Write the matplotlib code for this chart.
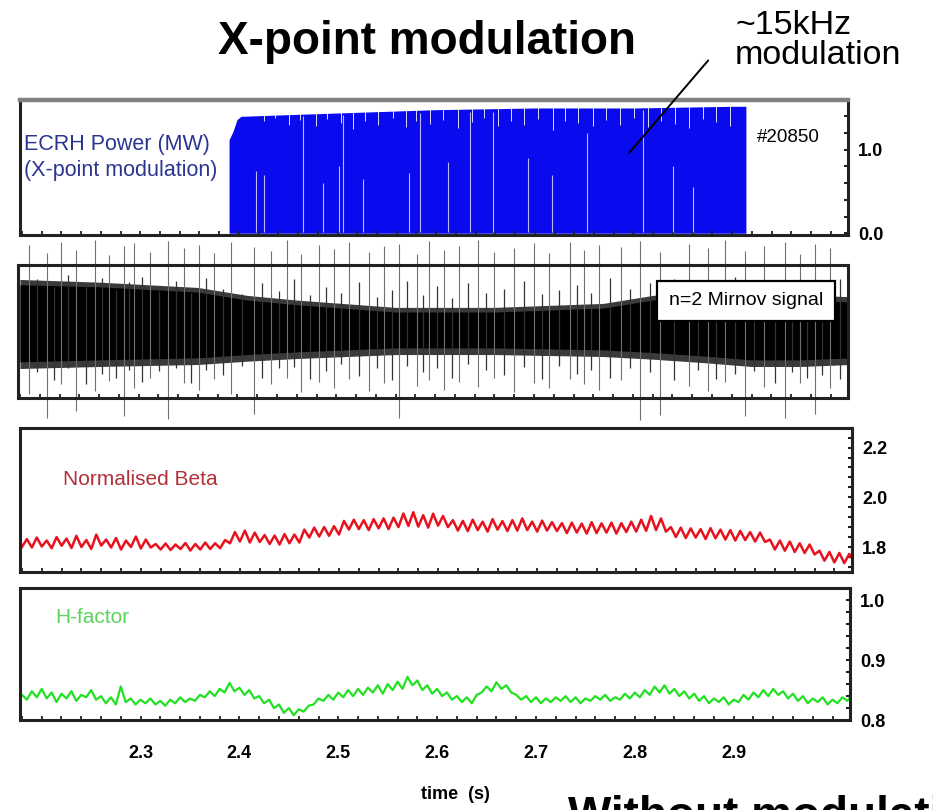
import numpy as np
import matplotlib
matplotlib.use("Agg")
import matplotlib.pyplot as plt
from matplotlib.ticker import AutoMinorLocator

plt.rcParams['font.family'] = ['Liberation Sans', 'DejaVu Sans']

# sampled traces start at 2.18 s, one value every 5 ms
t_start = 2.18
dt = 0.005

beta = [
    1.800, 1.832, 1.798, 1.838, 1.802, 1.826, 1.795, 1.840, 1.805, 1.834, 1.796, 1.845, 1.800, 1.828,
    1.792, 1.850, 1.806, 1.830, 1.798, 1.836, 1.790, 1.826, 1.800, 1.842, 1.794, 1.830, 1.798,
    1.812, 1.790, 1.814, 1.788, 1.810, 1.792, 1.816, 1.786, 1.812, 1.790, 1.818, 1.792, 1.815, 1.795, 1.828,
    1.815, 1.860, 1.822, 1.866, 1.818, 1.858, 1.820,
    1.848, 1.812, 1.846, 1.810, 1.852, 1.815, 1.850, 1.818,
    1.870, 1.838, 1.878, 1.842, 1.880, 1.845, 1.884, 1.850,
    1.905, 1.870, 1.910, 1.872, 1.908, 1.868, 1.912, 1.875, 1.915, 1.872, 1.918,
    1.880, 1.935, 1.885, 1.940, 1.882, 1.928, 1.878, 1.934, 1.886, 1.925, 1.880,
    1.908, 1.866, 1.905, 1.864, 1.910, 1.868, 1.902, 1.862, 1.912, 1.870, 1.904, 1.864, 1.908, 1.866,
    1.915, 1.868, 1.902, 1.862, 1.906, 1.866, 1.900, 1.864,
    1.896, 1.856, 1.898, 1.858, 1.894, 1.854, 1.900, 1.856, 1.895, 1.858, 1.898, 1.854, 1.896, 1.860,
    1.902, 1.862, 1.910, 1.865, 1.925, 1.868, 1.915, 1.862,
    1.880, 1.840, 1.878, 1.836, 1.875, 1.838, 1.872, 1.832, 1.876, 1.835, 1.870, 1.830, 1.868, 1.826,
    1.865, 1.828, 1.860, 1.822, 1.858, 1.820,
    1.830, 1.790, 1.826, 1.785, 1.822, 1.780, 1.815, 1.776, 1.810, 1.770,
    1.785, 1.745, 1.780, 1.738, 1.776, 1.735, 1.772, 1.740,
]

hfactor = [
    0.842, 0.834, 0.848, 0.838, 0.852, 0.836, 0.846, 0.830, 0.844,
    0.836, 0.848, 0.832, 0.842, 0.838, 0.850, 0.834, 0.840,
    0.828, 0.838, 0.826, 0.856, 0.830, 0.836, 0.826, 0.834,
    0.828, 0.836, 0.826, 0.832, 0.824, 0.834, 0.828, 0.838, 0.830, 0.836, 0.832, 0.842,
    0.838, 0.848, 0.840, 0.852, 0.846, 0.862, 0.848,
    0.854, 0.842, 0.850, 0.836, 0.840,
    0.828, 0.834, 0.820, 0.826, 0.812, 0.820, 0.808, 0.818, 0.814, 0.824,
    0.826, 0.836, 0.832, 0.842, 0.834, 0.846, 0.838, 0.850, 0.840, 0.852,
    0.842, 0.854, 0.846, 0.858, 0.844, 0.860, 0.850, 0.864, 0.852,
    0.872, 0.858, 0.866,
    0.850, 0.858, 0.844, 0.852, 0.840, 0.846, 0.834, 0.840,
    0.830, 0.838, 0.828, 0.842, 0.846,
    0.856, 0.848, 0.863, 0.852, 0.858, 0.846,
    0.842, 0.834, 0.840, 0.830, 0.838, 0.828, 0.836, 0.830, 0.838,
    0.832, 0.840, 0.830, 0.838, 0.828, 0.836, 0.832, 0.840, 0.834, 0.842, 0.832, 0.838, 0.834, 0.844,
    0.836, 0.846,
    0.838, 0.850, 0.842, 0.856, 0.846, 0.858, 0.844, 0.852, 0.840, 0.848, 0.836, 0.844,
    0.832, 0.840, 0.828, 0.836, 0.830, 0.838, 0.826, 0.834, 0.830, 0.842, 0.834, 0.846,
    0.838, 0.850, 0.840, 0.852, 0.842, 0.848, 0.836, 0.844,
    0.832, 0.840, 0.828, 0.836, 0.830, 0.838, 0.826, 0.834, 0.828, 0.838, 0.832, 0.842,
]

# ECRH power (MW), outline of the modulated block
ecrh_t = [2.390, 2.394, 2.398, 2.402, 2.45, 2.50, 2.55, 2.60, 2.70, 2.80, 2.90, 2.914]
ecrh_p = [1.12, 1.22, 1.36, 1.40, 1.42, 1.44, 1.46, 1.48, 1.50, 1.50, 1.52, 1.52]
# power drop-outs inside the block
gap_t = [2.417, 2.425, 2.465, 2.485, 2.501, 2.506, 2.526, 2.572, 2.584, 2.612, 2.634,
         2.658, 2.693, 2.717, 2.753, 2.810, 2.840, 2.860]
gap_top = [0.75, 0.70, 1.40, 0.60, 0.80, 1.42, 0.65, 0.72, 1.44, 0.85, 1.45,
           1.45, 0.90, 0.70, 1.20, 1.48, 0.80, 0.55]
# short dips along the top of the block
notch_t = [2.425, 2.437, 2.451, 2.462, 2.478, 2.489, 2.503, 2.516, 2.528, 2.541, 2.556, 2.569,
           2.580, 2.594, 2.607, 2.622, 2.636, 2.648, 2.663, 2.676, 2.689, 2.703, 2.718, 2.731,
           2.744, 2.759, 2.772, 2.786, 2.801, 2.815, 2.828, 2.842, 2.856, 2.871, 2.884, 2.898]
notch_lo = [1.34, 1.38, 1.30, 1.36, 1.28, 1.37, 1.32, 1.25, 1.35, 1.30, 1.38, 1.27,
            1.34, 1.31, 1.36, 1.26, 1.33, 1.38, 1.29, 1.35, 1.30, 1.37, 1.24, 1.34,
            1.32, 1.28, 1.36, 1.30, 1.38, 1.27, 1.35, 1.31, 1.26, 1.37, 1.33, 1.29]

# Mirnov signal (arb. units): envelope of the dense band
mirnov_t = [2.18, 2.26, 2.36, 2.41, 2.46, 2.56, 2.66, 2.77, 2.82, 2.87, 2.92, 2.97, 3.02]
mirnov_hi = [0.70, 0.67, 0.59, 0.47, 0.40, 0.29, 0.29, 0.35, 0.47, 0.52, 0.50, 0.47, 0.44]
mirnov_lo = [-0.46, -0.43, -0.40, -0.35, -0.31, -0.25, -0.25, -0.28, -0.32, -0.37, -0.43, -0.43, -0.40]
mirnov_hi_outer = [0.78, 0.74, 0.66, 0.54, 0.47, 0.36, 0.36, 0.42, 0.54, 0.60, 0.58, 0.55, 0.52]
mirnov_lo_outer = [-0.56, -0.53, -0.50, -0.45, -0.41, -0.35, -0.35, -0.38, -0.42, -0.47, -0.53, -0.53, -0.50]
# large spikes running past the frame
spike_t = [2.189, 2.207, 2.221, 2.237, 2.256, 2.270, 2.285, 2.295, 2.312, 2.330, 2.346, 2.361,
           2.376, 2.393, 2.417, 2.434, 2.450, 2.464, 2.482, 2.498, 2.513, 2.533, 2.548, 2.563,
           2.582, 2.594, 2.609, 2.624, 2.643, 2.660, 2.680, 2.700, 2.715, 2.736, 2.751, 2.766,
           2.788, 2.807, 2.827, 2.857, 2.876, 2.893, 2.913, 2.933, 2.954, 2.969, 2.984, 2.999]
spike_hi = [1.30, 1.18, 1.35, 1.22, 1.38, 1.15, 1.28, 1.33, 1.20, 1.36, 1.25, 1.30,
            1.18, 1.34, 1.27, 1.21, 1.37, 1.16, 1.30, 1.24, 1.35, 1.19, 1.28, 1.32,
            1.17, 1.36, 1.23, 1.29, 1.38, 1.20, 1.26, 1.33, 1.18, 1.35, 1.22, 1.30,
            1.27, 1.36, 1.19, 1.31, 1.25, 1.37, 1.21, 1.29, 1.34, 1.17, 1.32, 1.26]
spike_lo = [-0.95, -1.30, -0.80, -1.20, -0.90, -0.75, -1.28, -0.85, -0.70, -1.32, -0.78, -0.88,
            -0.72, -0.95, -1.25, -0.80, -0.70, -0.92, -0.76, -0.85, -0.72, -0.90, -0.78, -1.30,
            -0.82, -0.74, -0.88, -0.76, -0.84, -0.70, -0.92, -0.78, -0.86, -0.72, -0.80, -0.88,
            -0.74, -1.34, -1.26, -0.82, -0.90, -0.76, -1.28, -0.84, -1.31, -0.78, -1.25, -0.86]
# smaller bursts that stay near the band
fine_t = [2.197, 2.214, 2.229, 2.247, 2.263, 2.277, 2.290, 2.303, 2.321, 2.338, 2.353, 2.368,
          2.385, 2.405, 2.425, 2.442, 2.457, 2.473, 2.490, 2.505, 2.523, 2.541, 2.556, 2.572,
          2.588, 2.602, 2.617, 2.633, 2.651, 2.670, 2.690, 2.708, 2.725, 2.743, 2.758, 2.777,
          2.797, 2.817, 2.842, 2.866, 2.884, 2.903, 2.923, 2.944, 2.961, 2.976, 2.991, 3.010]
fine_hi = [0.78, 0.66, 0.84, 0.70, 0.80, 0.62, 0.74, 0.82, 0.60, 0.76, 0.58, 0.80,
           0.64, 0.56, 0.72, 0.60, 0.78, 0.55, 0.66, 0.58, 0.74, 0.52, 0.62, 0.76,
           0.55, 0.68, 0.50, 0.72, 0.58, 0.64, 0.75, 0.56, 0.62, 0.70, 0.58, 0.80,
           0.64, 0.72, 0.78, 0.66, 0.70, 0.82, 0.62, 0.76, 0.68, 0.74, 0.64, 0.78]
fine_lo = [-0.62, -0.74, -0.56, -0.80, -0.64, -0.70, -0.58, -0.76, -0.60, -0.55, -0.78, -0.58,
           -0.66, -0.52, -0.70, -0.56, -0.54, -0.72, -0.60, -0.50, -0.68, -0.56, -0.74, -0.52,
           -0.62, -0.55, -0.70, -0.50, -0.58, -0.66, -0.54, -0.72, -0.52, -0.64, -0.58, -0.70,
           -0.56, -0.62, -0.74, -0.58, -0.72, -0.64, -0.60, -0.78, -0.62, -0.70, -0.66, -0.72]

xticks = [2.3, 2.4, 2.5, 2.6, 2.7, 2.8, 2.9]
ecrh_ticks = [0.0, 1.0]
beta_ticks = [1.8, 2.0, 2.2]
h_ticks = [0.8, 0.9, 1.0]

time = t_start + dt * np.arange(len(beta))
XLIM = (2.178, 3.018)
SPINE = '#222222'


def style(ax, yticks=None):
    for s in ax.spines.values():
        s.set_linewidth(2.2)
        s.set_color(SPINE)
    ax.set_xlim(*XLIM)
    ax.set_xticks(xticks)
    ax.xaxis.set_minor_locator(AutoMinorLocator(5))
    ax.tick_params(axis='x', which='both', direction='in', length=3, width=1.3,
                   color=SPINE, labelbottom=False)
    ax.yaxis.tick_right()
    if yticks is None:
        ax.set_yticks([])
    else:
        ax.set_yticks(yticks)
        ax.yaxis.set_minor_locator(AutoMinorLocator(5))
        ax.tick_params(axis='y', which='both', direction='in', length=3, width=1.5,
                       color=SPINE, labelsize=13, pad=7)


fig = plt.figure(figsize=(9.33, 8.10), dpi=100)

# --- ECRH power ---
ax1 = fig.add_axes([0.0214, 0.710, 0.888, 0.167])
ax1.fill_between(ecrh_t, 0, ecrh_p, color='#0a0aee', lw=0)
ax1.vlines(gap_t, 0.02, gap_top, color='#b8b8ff', lw=0.8)
# white on white above the block, so only the dips into the blue show
ax1.vlines(notch_t, notch_lo, 1.6, color='white', lw=0.6)
ax1.set_ylim(-0.02, 1.6)
style(ax1, ecrh_ticks)
ax1.set_yticklabels(['0.0', '1.0'], fontweight='bold')
ax1.spines['top'].set_color('#808080')
ax1.spines['top'].set_linewidth(3.2)
ax1.text(0.005, 0.57, 'ECRH Power (MW)\n(X-point modulation)', transform=ax1.transAxes,
         color='#2a3590', fontsize=15.5, va='center', ha='left', linespacing=1.3)
ax1.text(0.890, 0.72, '#20850', transform=ax1.transAxes, fontsize=13.5, ha='left', va='center')
ax1.annotate('', xy=(2.794, 0.94), xycoords='data', xytext=(0.761, 0.928),
             textcoords='figure fraction', arrowprops=dict(arrowstyle='-', color='black', lw=1.4))

# --- Mirnov ---
ax2 = fig.add_axes([0.0193, 0.509, 0.890, 0.164])
ax2.fill_between(mirnov_t, mirnov_lo_outer, mirnov_hi_outer, color='#3a3a3a', lw=0)
lc = ax2.vlines(spike_t, spike_lo, spike_hi, color='#707070', lw=0.8)
lc.set_clip_on(False)
ax2.vlines(fine_t, fine_lo, fine_hi, color='#333333', lw=0.9)
ax2.fill_between(mirnov_t, mirnov_lo, mirnov_hi, color='black', lw=0)
ax2.set_ylim(-1, 1)
style(ax2)
ax2.text(0.877, 0.73, 'n=2 Mirnov signal', transform=ax2.transAxes, fontsize=14,
         ha='center', va='center',
         bbox=dict(boxstyle='square,pad=0.6', fc='white', ec='black', lw=1.6))

# --- normalised beta ---
ax3 = fig.add_axes([0.0214, 0.294, 0.892, 0.178])
ax3.plot(time, beta, color='#e8121e', lw=1.8)
ax3.set_ylim(1.70, 2.28)
style(ax3, beta_ticks)
ax3.set_yticklabels(['1.8', '2.0', '2.2'], fontweight='bold')
ax3.text(0.052, 0.64, 'Normalised Beta', transform=ax3.transAxes, color='#b23038',
         fontsize=15, ha='left', va='center')

# --- H-factor ---
ax4 = fig.add_axes([0.0214, 0.111, 0.890, 0.163])
ax4.plot(time, hfactor, color='#22e022', lw=1.6)
ax4.set_ylim(0.8, 1.02)
style(ax4, h_ticks)
ax4.set_yticklabels(['0.8', '0.9', '1.0'], fontweight='bold')
ax4.tick_params(axis='x', which='major', labelbottom=True, labelsize=13, pad=18)
for lab in ax4.get_xticklabels():
    lab.set_fontweight('bold')
ax4.text(0.042, 0.78, 'H-factor', transform=ax4.transAxes, color='#5ad45a',
         fontsize=15, ha='left', va='center')

fig.text(0.488, 0.019, 'time  (s)', ha='center', va='center', fontsize=13, fontweight='bold')

# slide titles
fig.text(0.458, 0.948, 'X-point modulation', ha='center', va='center',
         fontsize=33, fontweight='bold')
fig.text(0.788, 0.988, '~15kHz\nmodulation', ha='left', va='top', fontsize=24.5,
         linespacing=0.95)
fig.text(0.609, 0.019, 'Without modulation', ha='left', va='top',
         fontsize=33, fontweight='bold')

fig.savefig('out.png', dpi=100)
